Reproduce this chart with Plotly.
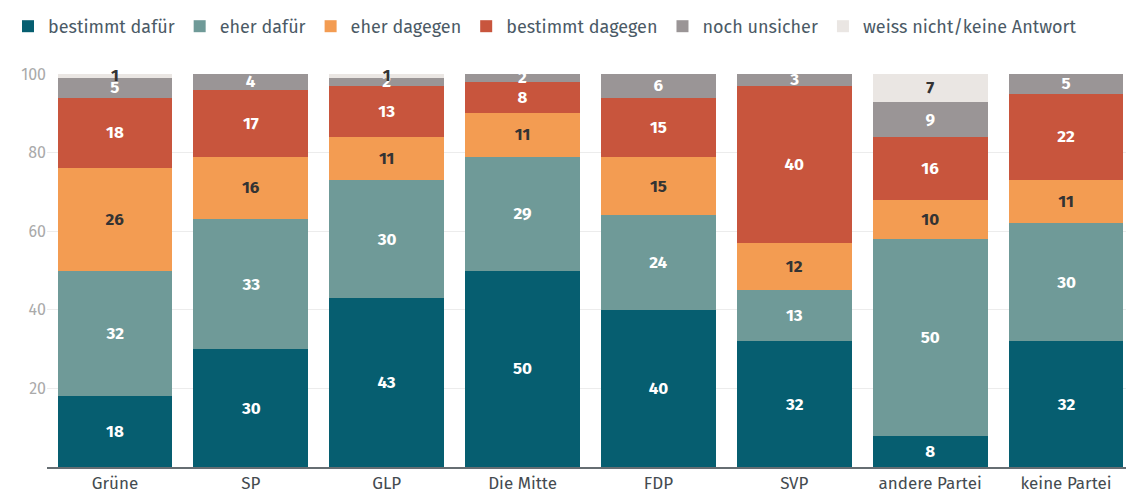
import plotly.graph_objects as go

categories = ["Grüne", "SP", "GLP", "Die Mitte", "FDP", "SVP", "andere Partei", "keine Partei"]
series_names = ["bestimmt dafür", "eher dafür", "eher dagegen", "bestimmt dagegen",
                "noch unsicher", "weiss nicht/keine Antwort"]
bestimmt_dafuer = [18, 30, 43, 50, 40, 32, 8, 32]
eher_dafuer = [32, 33, 30, 29, 24, 13, 50, 30]
eher_dagegen = [26, 16, 11, 11, 15, 12, 10, 11]
bestimmt_dagegen = [18, 17, 13, 8, 15, 40, 16, 22]
noch_unsicher = [5, 4, 2, 2, 6, 3, 9, 5]
weiss_nicht = [1, 0, 1, 0, 0, 0, 7, 0]

values = [bestimmt_dafuer, eher_dafuer, eher_dagegen, bestimmt_dagegen, noch_unsicher, weiss_nicht]
colors = ["#065e70", "#6f9a98", "#f39c52", "#c8553d", "#9a9596", "#eae6e3"]
text_colors = ["white", "white", "#333333", "white", "white", "#333333"]

FONT = "Fira Sans, Noto Sans, Open Sans, sans-serif"

fig = go.Figure()
for name, vals, col, tc in zip(series_names, values, colors, text_colors):
    fig.add_trace(go.Bar(
        name=name, x=categories, y=vals, marker=dict(color=col, line=dict(width=0)),
        text=[str(v) if v > 0 else "" for v in vals],
        textposition="inside", insidetextanchor="middle", textangle=0,
        textfont=dict(color=tc, size=17, family=FONT, weight="bold"),
        cliponaxis=False, hoverinfo="skip",
    ))

# the page adds an 8px body margin, so the figure is 8px smaller than the window
fig.update_layout(
    barmode="stack", bargap=0.155,
    width=1126, height=487,
    margin=dict(l=39, r=0, t=66, b=28),
    paper_bgcolor="white", plot_bgcolor="white",
    font=dict(family=FONT, color="#4b5a66"),
    uniformtext=dict(mode="show", minsize=17),
    showlegend=True,
    legend=dict(orientation="h", xref="container", x=0, xanchor="left",
                yref="container", y=1.0, yanchor="top",
                font=dict(size=18, color="#4b5a66"),
                traceorder="normal", itemwidth=30),
    xaxis=dict(showline=True, linecolor="#666d72", linewidth=2, ticks="",
               tickfont=dict(size=17, color="#444b50")),
    yaxis=dict(range=[0, 100], tickvals=[20, 40, 60, 80, 100], showgrid=True,
               gridcolor="#ececec", gridwidth=1, zeroline=False, ticks="",
               tickfont=dict(size=16, color="#aaaaaa")),
)
fig.write_html("out.html")
